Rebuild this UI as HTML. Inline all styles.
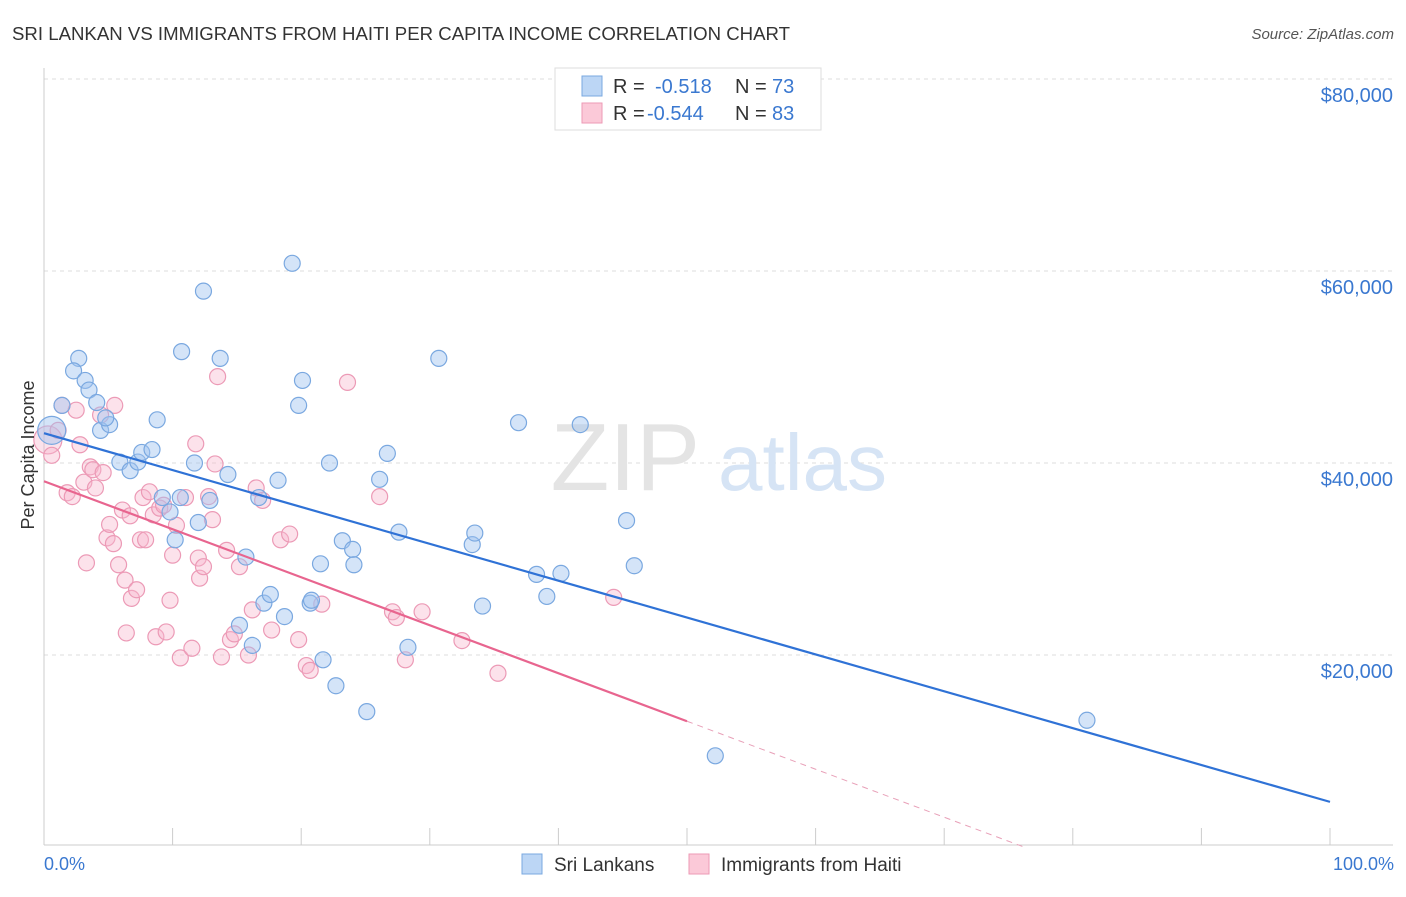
<!DOCTYPE html>
<html><head><meta charset="utf-8"><style>
body{margin:0;background:#fff;font-family:"Liberation Sans",sans-serif}
svg text{font-family:"Liberation Sans",sans-serif}
</style></head><body>
<svg id="chart" width="1406" height="892" xmlns="http://www.w3.org/2000/svg">
<text x="12" y="40" font-size="18" fill="#333" textLength="778" lengthAdjust="spacingAndGlyphs">SRI LANKAN VS IMMIGRANTS FROM HAITI PER CAPITA INCOME CORRELATION CHART</text>
<text x="1394" y="39" font-size="15" fill="#555" font-style="italic" text-anchor="end">Source: ZipAtlas.com</text>
<g id="grid"></g>
<text x="700" y="490" font-size="96" fill="#e4e4e4" font-family="Liberation Serif" text-anchor="end">ZIP</text>
<text x="718" y="490" font-size="80" fill="#d6e4f5">atlas</text>
<g id="pts"></g>
<g id="trend"></g>
<text x="34" y="455" font-size="18" fill="#333" transform="rotate(-90 34 455)" text-anchor="middle">Per Capita Income</text>
<text x="44" y="870" font-size="18" fill="#3a78d0">0.0%</text>
<text x="1394" y="870" font-size="18" fill="#3a78d0" text-anchor="end">100.0%</text>
<g>
<rect x="555" y="68" width="266" height="62" fill="#fff" stroke="#ddd"/>
<rect x="582" y="76" width="20" height="20" fill="#bcd6f5" stroke="#7aa8e0"/>
<rect x="582" y="103" width="20" height="20" fill="#fbc9d8" stroke="#ec9ab6"/>
<text x="613" y="93" font-size="20" fill="#333">R = </text><text x="655" y="93" font-size="20" fill="#3a78d0">-0.518</text>
<text x="735" y="93" font-size="20" fill="#333">N = </text><text x="772" y="93" font-size="20" fill="#3a78d0">73</text>
<text x="613" y="120" font-size="20" fill="#333">R = </text><text x="647" y="120" font-size="20" fill="#3a78d0">-0.544</text>
<text x="735" y="120" font-size="20" fill="#333">N = </text><text x="772" y="120" font-size="20" fill="#3a78d0">83</text>
</g>
<g>
<rect x="522" y="854" width="20" height="20" fill="#bcd6f5" stroke="#7aa8e0"/>
<text x="554" y="871" font-size="19" fill="#333">Sri Lankans</text>
<rect x="689" y="854" width="20" height="20" fill="#fbc9d8" stroke="#ec9ab6"/>
<text x="721" y="871" font-size="19" fill="#333">Immigrants from Haiti</text>
</g>
</svg>
<script>
const yTicks=[20000,40000,60000,80000];
const yTickLabels=["$20,000","$40,000","$60,000","$80,000"];
const blueX=[0.6,1.4,2.7,2.3,3.2,3.5,4.1,4.4,5.1,4.8,5.9,6.7,7.3,7.6,8.4,8.8,9.2,9.8,10.2,10.6,10.7,11.7,12.0,12.4,12.9,13.7,14.3,15.2,15.7,16.2,16.7,17.1,17.6,18.2,18.7,19.3,19.8,20.1,20.7,20.8,21.5,21.7,22.2,22.7,23.2,24.0,24.1,25.1,26.1,26.7,27.6,28.3,30.7,33.3,33.5,34.1,36.9,38.3,39.1,40.2,41.7,45.3,45.9,52.2,81.1];
const blueY=[43400,46000,50900,49600,48600,47600,46300,43400,44000,44700,40100,39200,40100,41100,41400,44500,36400,34900,32000,36400,51600,40000,33800,57900,36100,50900,38800,23100,30200,21000,36400,25400,26300,38200,24000,60800,46000,48600,25400,25700,29500,19500,40000,16800,31900,31000,29400,14100,38300,41000,32800,20800,50900,31500,32700,25100,44200,28400,26100,28500,44000,34000,29300,9500,13200];
const pinkX=[0.3,0.6,1.1,1.4,1.8,2.2,2.5,2.8,3.1,3.3,3.6,3.8,4.0,4.4,4.6,4.9,5.1,5.4,5.5,5.8,6.1,6.3,6.4,6.7,6.8,7.2,7.5,7.7,7.9,8.2,8.5,8.7,9.0,9.3,9.5,9.8,10.0,10.3,10.6,11.0,11.5,11.8,12.0,12.1,12.4,12.8,13.1,13.3,13.5,13.8,14.2,14.5,14.8,15.2,15.9,16.2,16.5,17.0,17.7,18.4,19.1,19.8,20.4,20.7,21.6,23.6,26.1,27.1,27.4,28.1,29.4,32.5,35.3,44.3];
const pinkY=[42400,40800,43400,46000,36900,36500,45500,41900,38000,29600,39600,39300,37400,45000,39000,32200,33600,31600,46000,29400,35100,27800,22300,34500,25900,26800,32000,36400,32000,37000,34600,21900,35300,35600,22400,25700,30400,33500,19700,36400,20700,42000,30100,28000,29200,36500,34100,39900,49000,19800,30900,21600,22200,29200,20000,24700,37400,36100,22600,32000,32600,21600,18900,18400,25300,48400,36500,24500,23900,19500,24500,21500,18100,26000];
const blueTrend=[43100,4700];
const pinkTrend=[38100,13100,50];
const NS="http://www.w3.org/2000/svg";
const X=v=>44+v*12.86, Y=v=>847-v*192/20000;
function mk(t,a,p){const e=document.createElementNS(NS,t);for(const k in a)e.setAttribute(k,a[k]);p.appendChild(e);return e;}
const g=document.getElementById('grid');
yTicks.forEach((t,i)=>{
 const l=mk('line',{x1:44,x2:1393,y1:Y(t),y2:Y(t),stroke:'#ddd','stroke-dasharray':'4,4'},g);
 
 
 const tx=mk('text',{x:1393,y:Y(t)+23,'font-size':20,fill:'#3a78d0','text-anchor':'end'},g);
 tx.textContent=yTickLabels[i];
 
 
});
mk('line',{x1:44,x2:44,y1:68,y2:845,stroke:'#ccc'},g);
mk('line',{x1:44,x2:1393,y1:845,y2:845,stroke:'#ccc'},g);
for(let i=0;i<=10;i++){const t=mk('line',{x1:X(i*10),x2:X(i*10),y1:828,y2:845,stroke:'#ccc'},g);
 
 }
const p=document.getElementById('pts');
function dots(xs,ys,fill,stroke,name){xs.forEach((x,i)=>{
 const c=mk('circle',{cx:X(x),cy:Y(ys[i]),r:i==0?14:8,fill:fill,stroke:stroke,'stroke-width':1.2},p);
 
 });}
dots(pinkX,pinkY,'rgba(248,182,204,0.4)','#ec9ab6','haiti-point');
dots(blueX,blueY,'rgba(160,196,240,0.45)','#7aa8e0','sri-lankan-point');
const tr=document.getElementById('trend');
const b=mk('line',{x1:X(0),y1:Y(blueTrend[0]),x2:X(100),y2:Y(blueTrend[1]),stroke:'#2f72d6','stroke-width':2.2},tr);


const slope=(pinkTrend[1]-pinkTrend[0])/pinkTrend[2];
const pk=mk('line',{x1:X(0),y1:Y(pinkTrend[0]),x2:X(pinkTrend[2]),y2:Y(pinkTrend[1]),stroke:'#e8658f','stroke-width':2.2},tr);


const xEnd=-pinkTrend[0]/slope;
const pd=mk('line',{x1:X(pinkTrend[2]),y1:Y(pinkTrend[1]),x2:X(xEnd),y2:Y(0),stroke:'#e8a0b8','stroke-width':1,'stroke-dasharray':'6,5'},tr);


</script>
</body></html>
